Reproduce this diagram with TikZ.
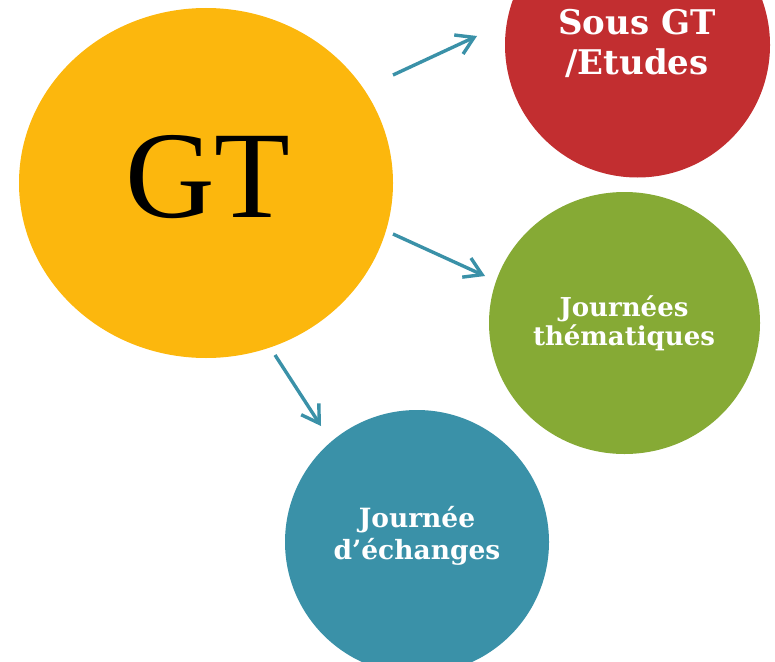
\documentclass[tikz,border=0pt]{standalone}
\usepackage{fontspec}
\setmainfont{Liberation Serif}
\newfontfamily\boldserif{DejaVu Serif}
\usetikzlibrary{shapes.geometric,arrows.meta}
\definecolor{gtgold}{HTML}{FCB70D}
\definecolor{gtred}{HTML}{C22E30}
\definecolor{gtgreen}{HTML}{86AA35}
\definecolor{gtteal}{HTML}{3A91A8}
\tikzset{
  blob/.style={ellipse,inner sep=0pt,draw=none},
  lbl/.style={text=white,font=\boldserif\bfseries,align=center,inner sep=0pt},
  conn/.style={draw=gtteal,line width=3.4pt,-{Straight Barb[length=17pt,width=21pt,line width=3.4pt]}}
}
\begin{document}
\begin{tikzpicture}[x=1pt,y=-1pt]
\useasboundingbox (0,0) rectangle (775,661);
\clip (0,0) rectangle (775,661);
\node[blob,fill=gtgold,minimum width=374pt,minimum height=350pt] (gt) at (206,183) {};
\node[inner sep=0pt,font=\fontsize{124}{124}\selectfont] (gtt) at (208,177) {GT};
\node[blob,fill=gtred,minimum width=265pt,minimum height=265pt] (red) at (637.5,45) {};
\node[lbl,font=\boldserif\bfseries\fontsize{34}{40}\selectfont] (redt) at (637,43) {Sous GT\\/Etudes};
\node[blob,fill=gtgreen,minimum width=271pt,minimum height=262pt] (green) at (624.5,323) {};
\node[lbl,font=\boldserif\bfseries\fontsize{26}{29}\selectfont] (greent) at (624,323) {Journées\\thématiques};
\node[blob,fill=gtteal,minimum width=264pt,minimum height=264pt] (teal) at (417,542) {};
\node[lbl,font=\boldserif\bfseries\fontsize{26.5}{32}\selectfont] (tealt) at (417,536) {Journée\\d’échanges};
\coordinate (a1s) at (393,75);
\coordinate (a1e) at (477,36);
\coordinate (a2s) at (393,234);
\coordinate (a2e) at (485,276);
\coordinate (a3s) at (275,355);
\coordinate (a3e) at (321,426);
\draw[conn] (a1s) -- (a1e);
\draw[conn] (a2s) -- (a2e);
\draw[conn] (a3s) -- (a3e);
\end{tikzpicture}
\end{document}
